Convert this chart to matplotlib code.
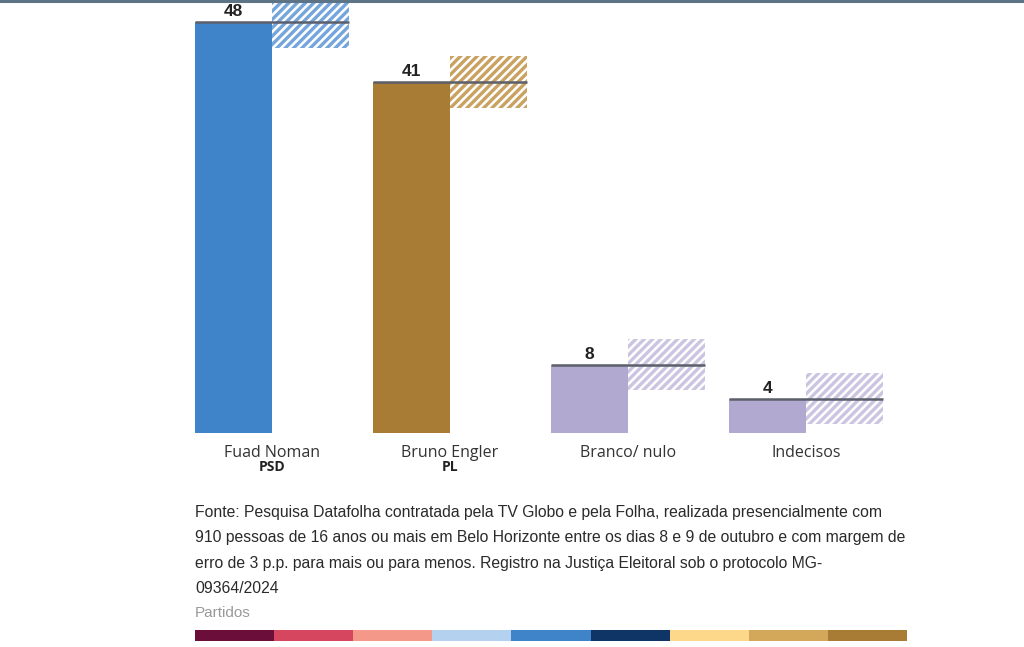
import matplotlib
matplotlib.use('Agg')
import matplotlib.pyplot as plt
from matplotlib.patches import Rectangle

# data
candidates = ['Fuad Noman', 'Bruno Engler', 'Branco/ nulo', 'Indecisos']
parties = ['PSD', 'PL', '', '']
values = [48, 41, 8, 4]
margin = 3
bar_colors = ['#3f84c8', '#a87c35', '#b2a9d0', '#b2a9d0']
hatch_colors = ['#74a6dc', '#c9a262', '#cbc5e2', '#cbc5e2']
strip_colors = ['#6b0f3a', '#d6475f', '#f4998a', '#b4d2ef', '#3f84c8',
                '#0e3566', '#fdd78a', '#d4a85a', '#a87c35']
source = ('Fonte: Pesquisa Datafolha contratada pela TV Globo e pela Folha, realizada presencialmente com\n'
          '910 pessoas de 16 anos ou mais em Belo Horizonte entre os dias 8 e 9 de outubro e com margem de\n'
          'erro de 3 p.p. para mais ou para menos. Registro na Justiça Eleitoral sob o protocolo MG-\n'
          '09364/2024')

plt.rcParams['font.family'] = ['Liberation Sans Narrow', 'Liberation Sans', 'DejaVu Sans']
plt.rcParams['hatch.linewidth'] = 2.4

W, H = 1024, 647
fig = plt.figure(figsize=(W / 100, H / 100), dpi=100)
ax = fig.add_axes([0, 0, 1, 1])

# pixel layout: group centers 178 px apart, first at x=272; baseline y=433, 8.56 px per point
step, x0, base, ppu = 178, 272, 433, 8.56
ax.set_xlim(-x0 / step, (W - x0) / step)
ax.set_ylim((base - H) / ppu, base / ppu)
ax.axis('off')

w = 77 / step
for i, (name, party, v) in enumerate(zip(candidates, parties, values)):
    ax.add_patch(Rectangle((i - w, 0), w, v, facecolor=bar_colors[i], edgecolor='none'))
    ax.add_patch(Rectangle((i, v - margin), w, 2 * margin, facecolor='white',
                           edgecolor=hatch_colors[i], hatch='////', linewidth=0))
    ax.plot([i - w, i + w], [v, v], color='#5b5f6a', linewidth=1.8, solid_capstyle='butt')
    ax.text(i - w / 2, v + 0.35, str(v), ha='center', va='bottom', fontsize=12.5,
            fontweight='bold', color='#222222')
    ax.text(i, -1.35, name, ha='center', va='top', fontsize=11.5, color='#333333',
            family=['Open Sans', 'DejaVu Sans'])
    if party:
        ax.text(i, -3.15, party, ha='center', va='top', fontsize=10, fontweight='bold',
                color='#222222', family=['Open Sans', 'DejaVu Sans'])

# top border
fig.add_artist(plt.Line2D([0, 1], [1 - 1 / H, 1 - 1 / H], color='#5d7486', linewidth=2.2))

fig.text(195 / W, 1 - 505 / H, source, ha='left', va='top', fontsize=11.35,
         color='#2a2a2a', linespacing=1.86)
fig.text(195 / W, 1 - 606 / H, 'Partidos', ha='left', va='top', fontsize=11, color='#999999')

sw = (907 - 195) / len(strip_colors)
for k, c in enumerate(strip_colors):
    fig.add_artist(Rectangle(((195 + k * sw) / W, 1 - 641 / H), sw / W, 11 / H,
                             facecolor=c, edgecolor='none', transform=fig.transFigure))

fig.savefig('out.png', dpi=100)
